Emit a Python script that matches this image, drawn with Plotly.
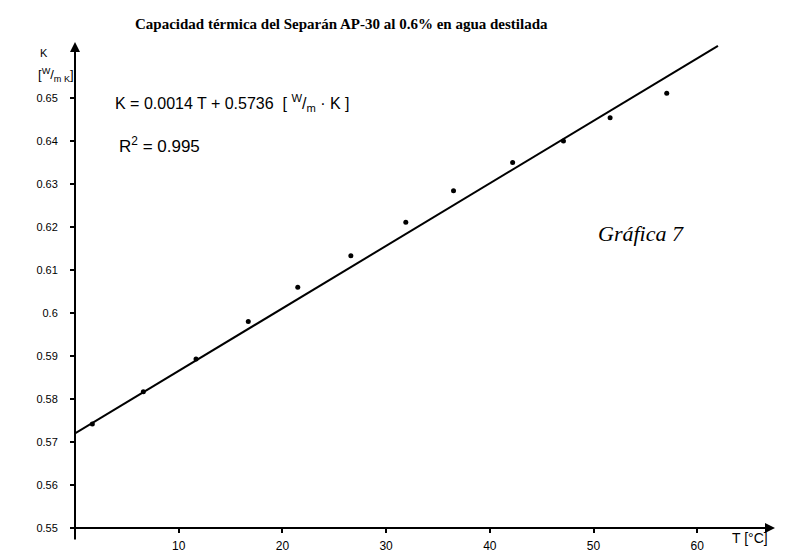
import plotly.graph_objects as go

# Data
T_points = [1.67, 6.59, 11.67, 16.71, 21.48, 26.6, 31.9, 36.5, 42.2, 47.1, 51.6, 57.06]
K_points = [0.5742, 0.5817, 0.5893, 0.5980, 0.6060, 0.6133, 0.6211, 0.6284, 0.6350, 0.6400, 0.6454, 0.6511]

T_fit = [0.0, 62.0]
K_fit = [0.5720, 0.6621]

x_ticks = [10, 20, 30, 40, 50, 60]
y_ticks = [0.55, 0.56, 0.57, 0.58, 0.59, 0.60, 0.61, 0.62, 0.63, 0.64, 0.65]
y_tick_labels = ["0.55", "0.56", "0.57", "0.58", "0.59", "0.6", "0.61", "0.62", "0.63", "0.64", "0.65"]

title_text = "Capacidad térmica del Separán AP-30 al 0.6% en agua destilada"
eq_text = "K = 0.0014 T + 0.5736  [ <sup>W</sup>/<sub>m</sub> · K ]"
r2_text = "R<sup>2</sup> = 0.995"
label_text = "Gráfica 7"

X_RANGE = [0, 67.5]
Y_RANGE = [0.55, 0.663]

fig = go.Figure()
fig.add_trace(go.Scatter(x=T_fit, y=K_fit, mode="lines",
                         line=dict(color="black", width=2), showlegend=False,
                         hoverinfo="skip"))
fig.add_trace(go.Scatter(x=T_points, y=K_points, mode="markers",
                         marker=dict(color="black", size=5), showlegend=False))

hand = dict(family="Liberation Sans", color="black")

fig.update_layout(
    width=803, height=557,
    margin=dict(l=75, r=28, t=42, b=29),
    paper_bgcolor="white", plot_bgcolor="white",
    xaxis=dict(range=X_RANGE, tickvals=x_ticks, ticks="outside", ticklen=4,
               tickwidth=1.5, tickcolor="black", showgrid=False, zeroline=False,
               showline=False, ticklabelstandoff=3, automargin=False,
               tickfont=dict(size=12, **hand)),
    yaxis=dict(range=Y_RANGE, tickvals=y_ticks, ticktext=y_tick_labels,
               ticks="outside", ticklen=4, tickwidth=1.5, tickcolor="black",
               showgrid=False, zeroline=False, showline=False,
               ticklabelstandoff=10, automargin=False,
               tickfont=dict(size=11, **hand)),
    font=dict(family="Liberation Sans", color="black"),
)

# Axes drawn as arrows
fig.add_annotation(x=X_RANGE[1], y=Y_RANGE[0], ax=X_RANGE[0] - 0.3, ay=Y_RANGE[0],
                   xref="x", yref="y", axref="x", ayref="y", text="",
                   showarrow=True, arrowhead=2, arrowsize=1, arrowwidth=2,
                   arrowcolor="black")
fig.add_annotation(x=X_RANGE[0], y=Y_RANGE[1], ax=X_RANGE[0], ay=Y_RANGE[0] - 0.003,
                   xref="x", yref="y", axref="x", ayref="y", text="",
                   showarrow=True, arrowhead=2, arrowsize=1, arrowwidth=2,
                   arrowcolor="black")

def px(xp, yp):
    return (xp - 75) / 700, (528 - yp) / 486

ann = []
x0, y0 = px(341, 14)
ann.append(dict(x=x0, y=y0, text="<b>" + title_text + "</b>",
                font=dict(family="Liberation Serif", size=15, color="black")))
x0, y0 = px(113, 90)
ann.append(dict(x=x0, y=y0, text=eq_text, xanchor="left",
                font=dict(size=16, **hand)))
x0, y0 = px(117, 132)
ann.append(dict(x=x0, y=y0, text=r2_text, xanchor="left",
                font=dict(size=17, **hand)))
x0, y0 = px(686, 233)
ann.append(dict(x=x0, y=y0, text="<i>" + label_text + "</i>",
                font=dict(family="Liberation Serif", size=22, color="black")))
x0, y0 = px(770, 548)
ann.append(dict(x=x0, y=y0, text="T [°C]", font=dict(size=14, **hand)))
x0, y0 = px(38, 45)
ann.append(dict(x=x0, y=y0, text="K", font=dict(size=11, **hand)))
x0, y0 = px(36, 64)
ann.append(dict(x=x0, y=y0, text="[<sup>W</sup>/<sub>m K</sub>]", font=dict(size=13, **hand)))

for a in ann:
    fig.add_annotation(xref="paper", yref="paper", showarrow=False, **a)

fig.write_html("out.html")
